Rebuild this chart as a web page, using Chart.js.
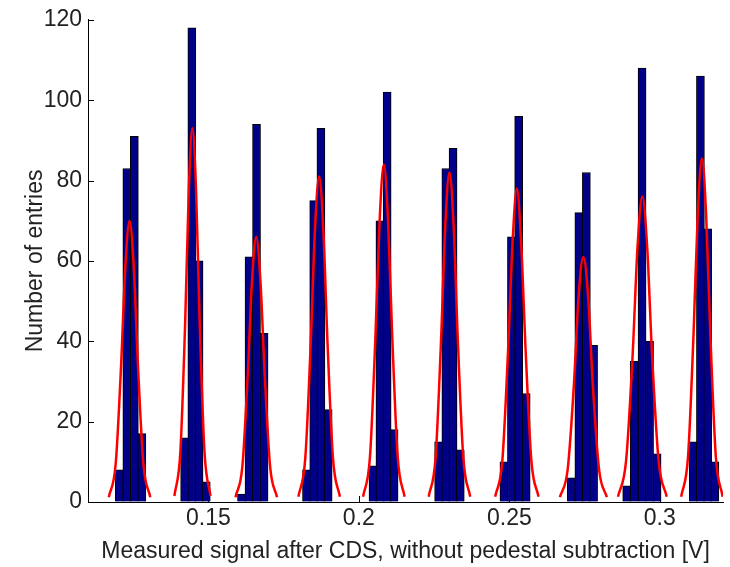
<!DOCTYPE html>
<html>
<head>
<meta charset="utf-8">
<script src="https://cdn.jsdelivr.net/npm/chart.js@4/dist/chart.umd.min.js"></script>
<style>
  html, body { margin: 0; padding: 0; background: #fff; }
  #wrap { width: 730px; height: 567px; }
</style>
</head>
<body>
<div id="wrap"><canvas id="histCanvas" width="730" height="567"></canvas></div>
<script>
// --- data ---
// histogram bins (centre in V) and counts, one group per signal level
const binCenters = [
  0.1204, 0.1229, 0.1254, 0.1279,
  0.1421, 0.1445, 0.1469, 0.1493,
  0.1610, 0.1635, 0.1660, 0.1685,
  0.1826, 0.1850, 0.1874, 0.1898,
  0.2047, 0.2070, 0.2094, 0.2117,
  0.2265, 0.2289, 0.2313, 0.2337,
  0.2482, 0.2507, 0.2531, 0.2556,
  0.2706, 0.2731, 0.2756, 0.2780,
  0.2890, 0.2915, 0.2941, 0.2966, 0.2991,
  0.3111, 0.3135, 0.3159, 0.3183
];
const binCounts = [
  8, 83, 91, 17,
  16, 118, 60, 5,
  2, 61, 94, 42,
  8, 75, 93, 23,
  9, 70, 102, 18,
  15, 83, 88, 13,
  10, 66, 96, 27,
  6, 72, 82, 39,
  4, 35, 108, 40, 12,
  15, 106, 68, 10
];

// red fitted curves, sampled points per peak
const fitX = [
  [0.1169, 0.1192, 0.1210, 0.1224, 0.1238, 0.1252, 0.1266, 0.1284, 0.1307],
  [0.1387, 0.1407, 0.1423, 0.1435, 0.1447, 0.1459, 0.1471, 0.1487, 0.1507],
  [0.1590, 0.1613, 0.1631, 0.1645, 0.1659, 0.1673, 0.1687, 0.1705, 0.1728],
  [0.1799, 0.1822, 0.1840, 0.1854, 0.1868, 0.1882, 0.1896, 0.1914, 0.1937],
  [0.2014, 0.2037, 0.2055, 0.2069, 0.2083, 0.2097, 0.2111, 0.2129, 0.2152],
  [0.2232, 0.2255, 0.2273, 0.2287, 0.2301, 0.2315, 0.2329, 0.2347, 0.2370],
  [0.2453, 0.2477, 0.2496, 0.2511, 0.2525, 0.2539, 0.2554, 0.2573, 0.2597],
  [0.2668, 0.2694, 0.2715, 0.2730, 0.2746, 0.2762, 0.2777, 0.2798, 0.2824],
  [0.2861, 0.2888, 0.2910, 0.2926, 0.2942, 0.2958, 0.2974, 0.2996, 0.3023],
  [0.3071, 0.3094, 0.3112, 0.3126, 0.3140, 0.3154, 0.3168, 0.3186, 0.3209]
];
const fitY = [
  [1.2, 9.5, 34, 58.5, 70, 58.5, 34, 9.5, 1.2],
  [1.5, 12.6, 45, 77.7, 93, 77.7, 45, 12.6, 1.5],
  [1.2, 8.9, 32, 55, 66, 55, 32, 8.9, 1.2],
  [1.3, 10.9, 39.4, 67.6, 81, 67.6, 39.4, 10.9, 1.3],
  [1.3, 11.3, 41, 70, 84, 70, 41, 11.3, 1.3],
  [1.3, 11.1, 40, 68.5, 82, 68.5, 40, 11.1, 1.3],
  [1.3, 10.5, 38, 65, 78, 65, 38, 10.5, 1.3],
  [1.2, 8.2, 29.7, 51, 61, 51, 29.7, 8.2, 1.2],
  [1.3, 10.3, 37, 63.5, 76, 63.5, 37, 10.3, 1.3],
  [1.3, 11.5, 41.6, 71.4, 85.5, 71.4, 41.6, 11.5, 1.3]
];

// axis ticks
const xTicks = [0.15, 0.2, 0.25, 0.3];
const xTickLabels = ['0.15', '0.2', '0.25', '0.3'];
const yTicks = [0, 20, 40, 60, 80, 100, 120];

const xTitle = 'Measured signal after CDS, without pedestal subtraction [V]';
const yTitle = 'Number of entries';

// --- styles ---
const textFont = { family: '"Liberation Sans", Arial, sans-serif', size: 23 };
const textColor = '#222';

// matlab style ticks pointing into the axes
const innerTicks = {
  id: 'innerTicks',
  beforeDatasetsDraw(chart) {
    const { ctx, chartArea, scales } = chart;
    ctx.save();
    ctx.strokeStyle = '#000';
    ctx.lineWidth = 1;
    ctx.beginPath();
    xTicks.forEach(v => {
      const px = Math.round(scales.x.getPixelForValue(v)) + 0.5;
      ctx.moveTo(px, chartArea.bottom);
      ctx.lineTo(px, chartArea.bottom - 6);
    });
    yTicks.forEach(v => {
      const py = Math.round(scales.y.getPixelForValue(v)) + 0.5;
      ctx.moveTo(chartArea.left, py);
      ctx.lineTo(chartArea.left + 6, py);
    });
    ctx.stroke();
    ctx.restore();
  }
};

const barData = binCenters.map((x, i) => ({ x: x, y: binCounts[i] }));

const fitSets = fitX.map((xs, i) => ({
  type: 'line',
  data: xs.map((x, j) => ({ x: x, y: fitY[i][j] })),
  borderColor: '#ff0000',
  borderWidth: 2.5,
  pointRadius: 0,
  fill: false,
  cubicInterpolationMode: 'monotone',
  order: 0
}));

const ctx = document.getElementById('histCanvas').getContext('2d');
const chart = new Chart(ctx, {
  type: 'bar',
  data: {
    datasets: [
      {
        type: 'bar',
        data: barData,
        backgroundColor: '#000088',
        borderColor: '#000',
        borderWidth: 1,
        barThickness: 8,
        order: 1
      },
      ...fitSets
    ]
  },
  options: {
    responsive: false,
    animation: false,
    devicePixelRatio: 1,
    layout: { padding: { top: 16, right: 7, bottom: 0, left: 0 } },
    plugins: { legend: { display: false }, tooltip: { enabled: false } },
    scales: {
      x: {
        type: 'linear',
        min: 0.11,
        max: 0.321,
        offset: false,
        afterBuildTicks: s => { s.ticks = xTicks.map(v => ({ value: v })); },
        afterFit: s => { s.height = 65; },
        grid: { display: true, drawOnChartArea: false, drawTicks: false },
        border: { display: true, color: '#000', width: 1 },
        ticks: {
          padding: 3,
          font: textFont,
          color: textColor,
          maxRotation: 0,
          callback: v => {
            const k = xTicks.findIndex(t => Math.abs(t - v) < 1e-9);
            return k >= 0 ? xTickLabels[k] : '';
          }
        },
        title: { display: true, text: xTitle, font: textFont, color: textColor, padding: { top: 0, bottom: 2 } }
      },
      y: {
        type: 'linear',
        min: 0,
        max: 120,
        afterBuildTicks: s => { s.ticks = yTicks.map(v => ({ value: v })); },
        afterFit: s => { s.width = 88; },
        grid: { display: true, drawOnChartArea: false, drawTicks: false },
        border: { display: true, color: '#000', width: 1 },
        ticks: { padding: 6, font: textFont, color: textColor },
        title: { display: true, text: yTitle, font: textFont, color: textColor, padding: { top: 22, bottom: 0 } }
      }
    }
  },
  plugins: [innerTicks]
});
</script>
</body>
</html>
